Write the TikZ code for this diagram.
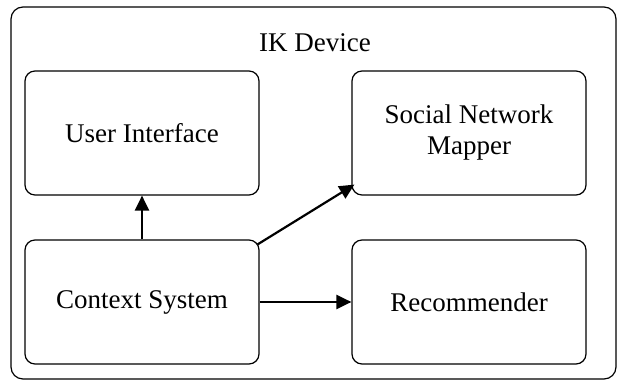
\documentclass[tikz,border=0pt]{standalone}
\usepackage{fontspec}
\setmainfont{Liberation Serif}
\usetikzlibrary{arrows.meta,positioning,calc}

\tikzset{
  module/.style={draw, rounded corners=5pt, line width=0.6pt,
    minimum width=117pt, minimum height=62pt, align=center,
    font=\fontsize{13.5}{15.5}\selectfont},
  flow/.style={-{Triangle[length=7.5pt,width=7pt]}, line width=1.1pt}
}

\begin{document}
\begin{tikzpicture}[x=0.5pt,y=-0.5pt]
    \useasboundingbox (0,0) rectangle (621,383);
    % device frame
    \draw[rounded corners=6pt, line width=0.6pt] (11,7) rectangle (616,379);
    \node[font=\fontsize{13.5}{15.5}\selectfont] (title) at (315,43) {IK Device};
    % components
    \node[module] (ui) at (142,133) {User Interface};
    \node[module] (snm) at (469,133) {Social Network\\Mapper};
    \node[module] (ctx) at (142,302) {Context System};
    \node[module] (rec) at (469,302) {Recommender};
    % data flow
    \draw[flow] (ctx.north) -- (ui.south);
    \draw[flow] ($(ctx.north east)+(-2,5)$) -- ($(snm.south west)+(3,-11)$);
    \draw[flow] (ctx.east) -- (rec.west);
\end{tikzpicture}
\end{document}
